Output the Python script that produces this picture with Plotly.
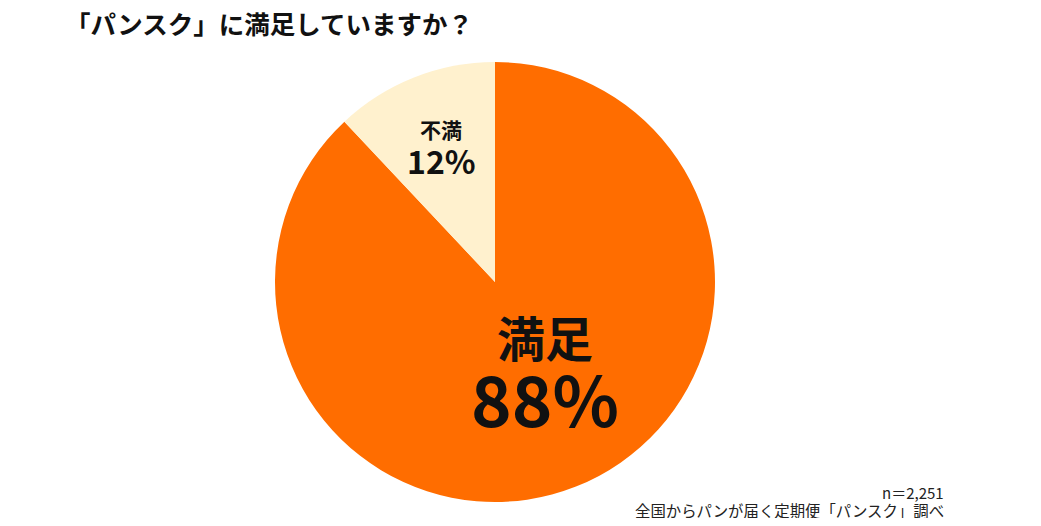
import plotly.graph_objects as go

# data
labels = ["満足", "不満"]
values = [88, 12]
colors = ["#FF6D00", "#FFF1CE"]
title_text = "「パンスク」に満足していますか？"
sample_note = "n＝2,251"
source_note = "全国からパンが届く定期便「パンスク」調べ"

# the page body has an 8px margin, so the figure is drawn 8px in from the corner
OFF = 8
W, H = 1041 - 2 * OFF, 526 - 2 * OFF
JP = "Noto Sans CJK JP, Noto Sans, sans-serif"


def px_x(x):
    return (x - OFF) / W


def px_y(y):
    return 1 - (y - OFF) / H


fig = go.Figure(
    go.Pie(
        labels=labels,
        values=values,
        sort=False,
        direction="clockwise",
        rotation=0,
        marker=dict(colors=colors, line=dict(width=0)),
        textinfo="none",
        hoverinfo="label+percent",
        showlegend=False,
        domain=dict(x=[px_x(275), px_x(715)], y=[px_y(502), px_y(62)]),
    )
)


def note(x, y, text, size, color="#111111", xanchor="center"):
    fig.add_annotation(
        x=px_x(x), y=px_y(y), xref="paper", yref="paper", showarrow=False,
        xanchor=xanchor, yanchor="middle", text=text,
        font=dict(family=JP, size=size, color=color),
    )


# slice labels: (x, y_label, y_pct, label size, pct size)
label_spec = [
    (545, 336, 397, 48, 69),
    (441, 129, 160, 21, 32),
]
for lab, val, (cx, ly, py, ls, ps) in zip(labels, values, label_spec):
    note(cx, ly, f"<b>{lab}</b>", ls)
    note(cx, py, f"<b>{val}%</b>", ps)

note(63, 22, f"<b>{title_text}</b>", 25.5, xanchor="left")
note(946, 492, sample_note, 15, color="#222222", xanchor="right")
note(946, 510, source_note, 15.4, color="#222222", xanchor="right")

fig.update_layout(
    width=W, height=H,
    margin=dict(l=0, r=0, t=0, b=0),
    paper_bgcolor="#FFFFFF",
    plot_bgcolor="#FFFFFF",
)

fig.write_html("out.html")
